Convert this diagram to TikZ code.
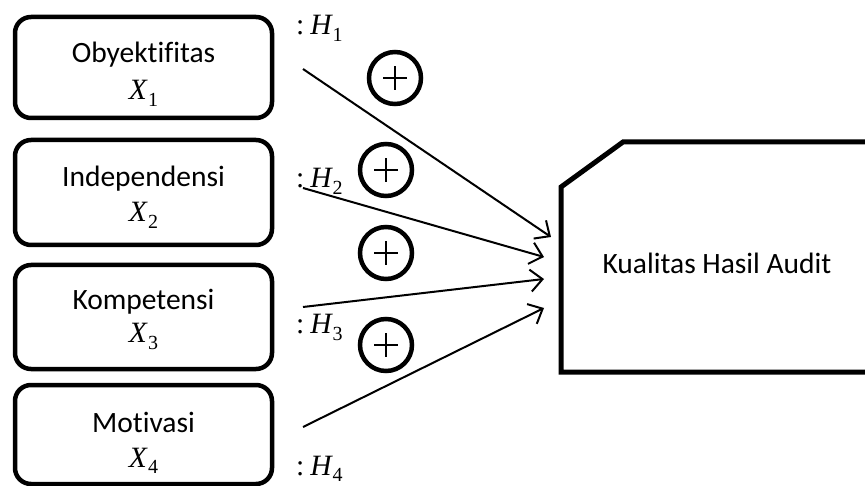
\documentclass[tikz,border=0pt]{standalone}
\usepackage{fontspec}
\setmainfont{Carlito}[Ligatures=NoCommon]
\newfontfamily\mvfont{Liberation Serif}
\newcommand{\mvar}[2]{{\mvfont\itshape #1}\kern1pt\raisebox{-0.22em}{\mvfont\fontsize{20}{21}\selectfont #2}}
\usetikzlibrary{arrows.meta}
\begin{document}
\begin{tikzpicture}[x=1pt,y=-1pt,
  varbox/.style={draw, line width=4.5pt, rounded corners=16pt, minimum width=257pt, inner sep=0pt},
  lbl/.style={font=\fontsize{29.5}{34}\selectfont, anchor=base},
  mlbl/.style={font=\fontsize{29.5}{32}\selectfont, anchor=base},
  hlbl/.style={font=\fontsize{29.5}{32}\selectfont, anchor=base west, inner sep=0pt},
  plusc/.style={draw, circle, line width=4.5pt, minimum size=52pt, inner sep=0pt,
    path picture={\draw[line width=1.6pt]
      ([xshift=-12pt]path picture bounding box.center) -- ([xshift=12pt]path picture bounding box.center)
      ([yshift=-12pt]path picture bounding box.center) -- ([yshift=12pt]path picture bounding box.center);}},
  arr/.style={-{Straight Barb[length=12pt,width=22pt,line width=2pt]}, line width=2pt},
  outbox/.style={line width=5pt, line join=miter}
]
\clip (0,0) rectangle (865,486);

% variable boxes
\node[varbox, minimum height=101pt] (b1) at (143.5,67.5) {};
\node[varbox, minimum height=105pt] (b2) at (143.5,192.5) {};
\node[varbox, minimum height=104pt] (b3) at (143.5,317) {};
\node[varbox, minimum height=99pt]  (b4) at (143.5,434.5) {};

\node[lbl] (n1) at (143.5,63) {Obyektifitas};
\node[mlbl] (x1) at (143.5,100) {\mvar{X}{1}};
\node[lbl] (n2) at (143.5,187) {Independensi};
\node[mlbl] (x2) at (143.5,222) {\mvar{X}{2}};
\node[lbl] (n3) at (143.5,310) {Kompetensi};
\node[mlbl] (x3) at (143.5,343) {\mvar{X}{3}};
\node[lbl] (n4) at (143.5,432) {Motivasi};
\node[mlbl] (x4) at (143.5,467) {\mvar{X}{4}};

% hypothesis labels
\node[hlbl] (h1) at (296,35) {{\mvfont:}\kern6pt\mvar{H}{1}};
\node[hlbl] (h2) at (296,188) {{\mvfont:}\kern6pt\mvar{H}{2}};
\node[hlbl] (h3) at (296,334) {{\mvfont:}\kern6pt\mvar{H}{3}};
\node[hlbl] (h4) at (296,475) {{\mvfont:}\kern6pt\mvar{H}{4}};

% plus circles
\node[plusc] (p1) at (395,78) {};
\node[plusc] (p2) at (386,170) {};
\node[plusc] (p3) at (386,253) {};
\node[plusc] (p4) at (386,345) {};

% dependent variable
\draw[outbox] (561,187) -- (623,142) -- (890,142) -- (890,372) -- (561,372) -- cycle;
\node[lbl, anchor=center] (y) at (717,263) {Kualitas Hasil Audit};

% connectors
\coordinate (s1) at (303,69);
\coordinate (s2) at (303,188);
\coordinate (s3) at (303,307);
\coordinate (s4) at (303,427);
\coordinate (e1) at (551,237);
\coordinate (e2) at (544,257);
\coordinate (e3) at (544,279);
\coordinate (e4) at (544,308);
\draw[arr] (s1) -- (e1);
\draw[arr] (s2) -- (e2);
\draw[arr] (s3) -- (e3);
\draw[arr] (s4) -- (e4);
\end{tikzpicture}
\end{document}
